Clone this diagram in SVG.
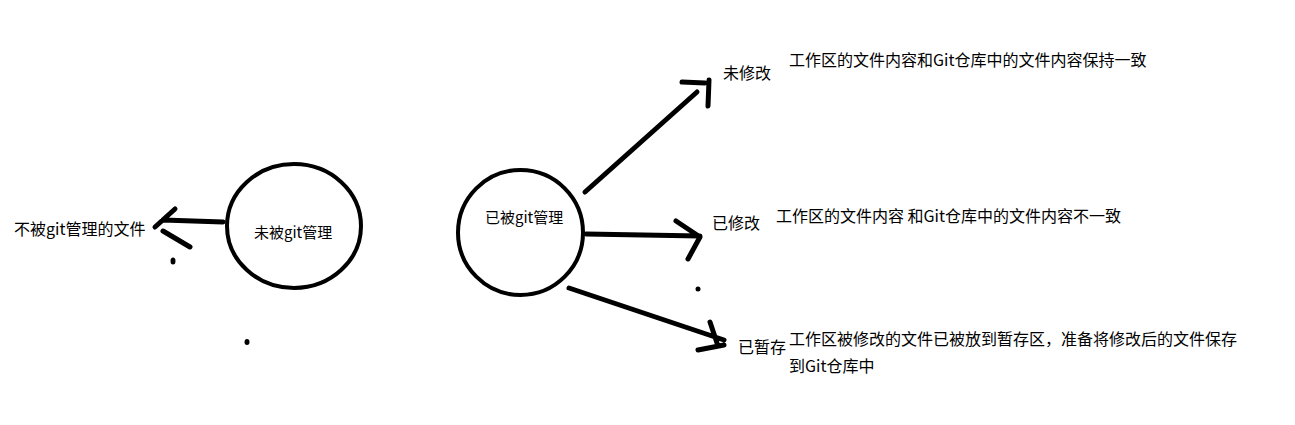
<svg xmlns="http://www.w3.org/2000/svg" width="1295" height="425" viewBox="0 0 1295 425">
<style>
.bg{fill:#fff}
.node{fill:none;stroke:#000;stroke-width:4}
.ln{fill:none;stroke:#000;stroke-width:5;stroke-linecap:round;stroke-linejoin:round}
.dot{fill:#000}
text{font-family:"Microsoft YaHei","Noto Sans CJK SC",sans-serif;fill:#000}
.t16{font-size:16px}
.t14{font-size:15px}
</style>
<rect class="bg" x="0" y="0" width="1295" height="425"/>
<g id="untracked">
<ellipse class="node" cx="294" cy="226" rx="67" ry="62"/>
<text class="t14" x="254" y="238">未被git管理</text>
</g>
<g id="tracked">
<ellipse class="node" cx="520.5" cy="232.5" rx="62.5" ry="62.5"/>
<text class="t14" x="485" y="223">已被git管理</text>
</g>
<g id="untracked-file">
<text class="t16" x="14" y="235">不被git管理的文件</text>
</g>
<g id="unmodified">
<text class="t16" x="723" y="79">未修改</text>
<text class="t16" x="789" y="66">工作区的文件内容和Git仓库中的文件内容保持一致</text>
</g>
<g id="modified">
<text class="t16" x="712" y="229">已修改</text>
<text class="t16" x="776" y="222">工作区的文件内容 和Git仓库中的文件内容不一致</text>
</g>
<g id="staged">
<text class="t16" x="738" y="353">已暂存</text>
<text class="t16" x="789" y="345">工作区被修改的文件已被放到暂存区，准备将修改后的文件保存</text>
<text class="t16" x="789" y="372">到Git仓库中</text>
</g>
<g id="connectors">
<path class="ln" d="M223 222 L163 220 M155 227 L175 209 M163 231 L190 247"/>
<path class="ln" d="M585 192 L697 92 M682 82 L705 83 M709 80 L708 106"/>
<path class="ln" d="M586 234 L700 236 M676 221 L700 237 L688 259"/>
<path class="ln" d="M569 288 L724 340 M710 322 L717 343 M698 350 L724 345"/>
<ellipse class="dot" cx="173" cy="261" rx="2.5" ry="3.5"/>
<ellipse class="dot" cx="247" cy="342" rx="2.5" ry="3"/>
<ellipse class="dot" cx="698" cy="289" rx="2.5" ry="2.5"/>
</g>
</svg>
